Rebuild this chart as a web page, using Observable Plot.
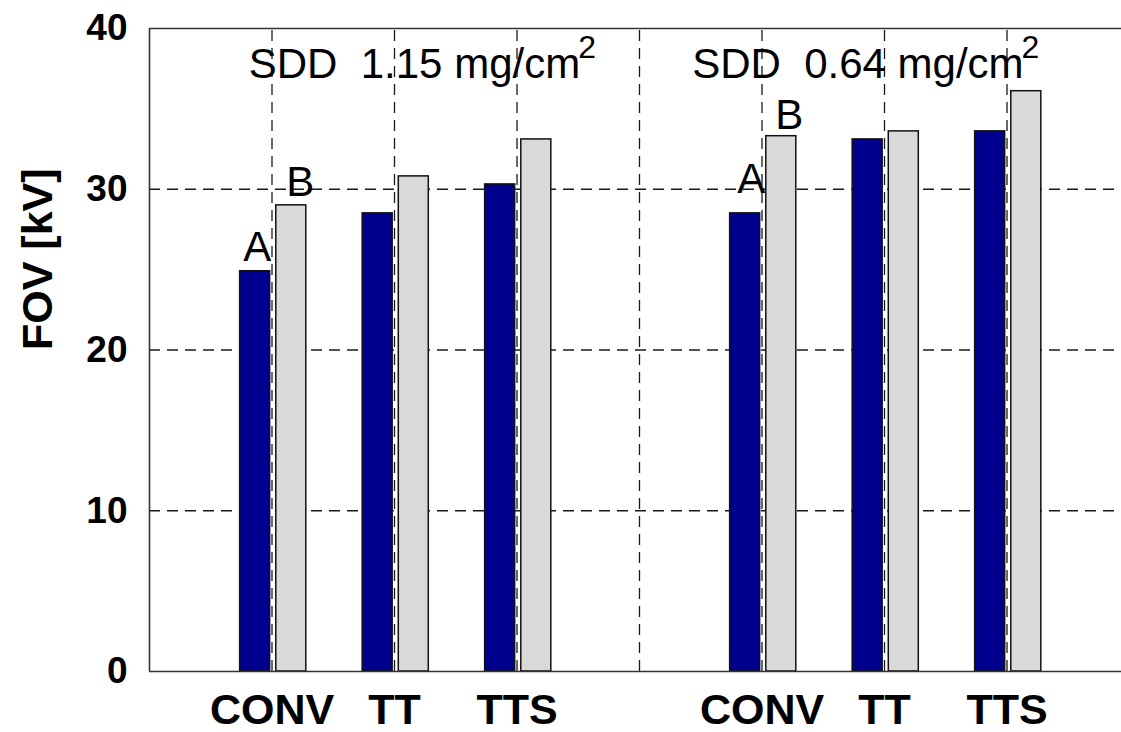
<!DOCTYPE html>
<html>
<head>
<meta charset="utf-8">
<script src="https://cdn.jsdelivr.net/npm/d3@7"></script>
<script src="https://cdn.jsdelivr.net/npm/@observablehq/plot@0.6"></script>
<style>
  html, body { margin: 0; padding: 0; background: #fff; }
  svg text { white-space: pre; }
</style>
</head>
<body>
<div id="chart"></div>
<script>
// ---- data ----
const categories = ["CONV", "TT", "TTS"];
const groupLabels = ["SDD  1.15 mg/cm", "SDD  0.64 mg/cm"];
const unitExponent = "2";
const seriesNames = ["A", "B"];
// FOV [kV] for each group x category (group 1 then group 2)
const seriesA = [24.9, 28.5, 30.3, 28.5, 33.1, 33.6];
const seriesB = [29.0, 30.8, 33.1, 33.3, 33.6, 36.1];
const yTicks = [0, 10, 20, 30, 40];

// ---- build table ----
const rows = [];
groupLabels.forEach((g, gi) => {
  categories.forEach((c, ci) => {
    const pos = gi * 4 + ci + 1;
    rows.push({group: gi, cat: c, pos, series: seriesNames[0], value: seriesA[gi * 3 + ci]});
    rows.push({group: gi, cat: c, pos, series: seriesNames[1], value: seriesB[gi * 3 + ci]});
  });
});
const barOffsets = {A: [-0.26, -0.015], B: [0.035, 0.28]};
const catTicks = [];
const catNames = {};
groupLabels.forEach((g, gi) => categories.forEach((c, ci) => {
  catTicks.push(gi * 4 + ci + 1);
  catNames[gi * 4 + ci + 1] = c;
}));
const gridX = d3.range(1, 8);
const firstBars = rows.filter(d => d.cat === categories[0]);
const groupText = groupLabels.map((t, gi) => ({text: t, pos: gi * 4 + (gi === 0 ? 0.81 : 0.43), value: 36.9}));

const font = "'Liberation Sans', Arial, sans-serif";
const gridStyle = {stroke: "#000", strokeWidth: 1.3, strokeDasharray: "11,7", strokeOpacity: 0.9};

const labelMark = (series, group, dx, dy) =>
  Plot.text(firstBars.filter(d => d.series === series && d.group === group), {
    x: d => d.pos + (barOffsets[series][0] + barOffsets[series][1]) / 2,
    y: "value", text: "series", lineAnchor: "bottom", dx, dy, fontSize: 42, fill: "#000"
  });

const chart = Plot.plot({
  width: 1121,
  height: 732,
  marginLeft: 149,
  marginRight: 0,
  marginTop: 28,
  marginBottom: 61,
  style: {fontFamily: font, background: "#fff", overflow: "hidden"},
  x: {type: "linear", domain: [0, 8], range: [149, 1129]},
  y: {domain: [0, 40], range: [671, 28]},
  marks: [
    Plot.ruleX(gridX, {x: d => d, y1: 0, y2: 40, ...gridStyle}),
    Plot.ruleY([10, 20, 30], {y: d => d, ...gridStyle}),
    Plot.rectY(rows, {
      x1: d => d.pos + barOffsets[d.series][0],
      x2: d => d.pos + barOffsets[d.series][1],
      y1: 0,
      y2: "value",
      fill: d => d.series === "A" ? "#00008f" : "#d9d9d9",
      stroke: "#111",
      strokeWidth: 1.5
    }),
    Plot.ruleX([0], {x: d => d, y1: 0, y2: 40, stroke: "#333", strokeWidth: 1.6}),
    Plot.ruleY([0, 40], {y: d => d, stroke: "#333", strokeWidth: 1.6}),
    Plot.axisY({ticks: yTicks, tickSize: 0, tickPadding: 22, fontSize: 37, fontWeight: "bold", label: null, fill: "#000"}),
    Plot.axisX({ticks: catTicks, tickFormat: d => catNames[d], tickSize: 0, tickPadding: 22, fontSize: 43, fontWeight: "bold", label: null, fill: "#000"}),
    Plot.text(["FOV [kV]"], {frameAnchor: "left", rotate: -90, dx: -111, fontSize: 43, fontWeight: "bold", fill: "#000"}),
    Plot.text(groupText, {x: "pos", y: "value", text: "text", textAnchor: "start", lineAnchor: "bottom", fontSize: 42, fill: "#000", className: "grouplabel"}),
    labelMark("A", 0, 2, -10),
    labelMark("B", 0, 9, -9),
    labelMark("A", 1, 6, -20),
    labelMark("B", 1, 8, -7)
  ]
});

// superscript exponent on the unit
d3.select(chart).selectAll("g.grouplabel text").each(function() {
  d3.select(this).append("tspan").attr("dx", -2).attr("dy", -20).attr("font-size", 32).text(unitExponent);
});
document.getElementById("chart").appendChild(chart);
</script>
</body>
</html>
